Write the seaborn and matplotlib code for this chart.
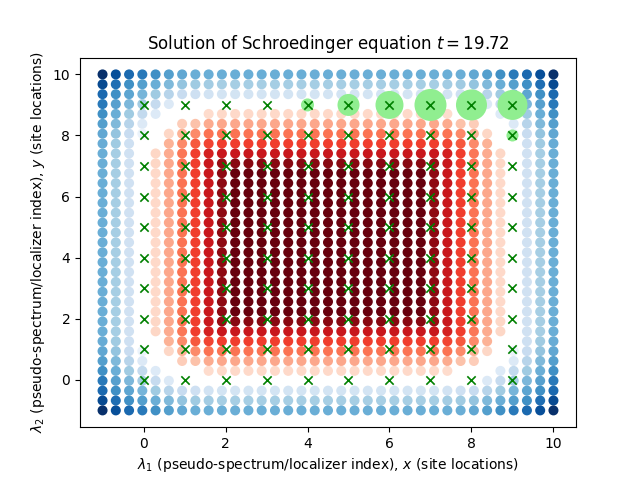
import matplotlib
matplotlib.use("Agg")
import matplotlib.pyplot as plt
import numpy as np
import pandas as pd
import seaborn as sns

# grid of localizer values, top row is lambda_2 = 10
# negative -> blue shades, positive -> red shades, 0 -> nothing drawn (in percent of the colormap)
grid_x = np.linspace(-1, 10, 35)
grid_y = np.linspace(10, -1, 35)

row_a = [-100,-88,-78,-72,-63,-57,-53,-50,-50,-50,-50,-50,-50,-50,-50,-50,-50,-50,-50,-50,-50,-50,-50,-50,-50,-50,-50,-50,-53,-57,-63,-72,-78,-88,-100]
row_b = [-90,-76,-63,-57,-50,-45,-40,-37,-36,-35,-35,-35,-35,-35,-35,-35,-35,-35,-35,-35,-35,-35,-35,-35,-35,-35,-36,-37,-40,-45,-50,-57,-63,-76,-90]
row_c = [-78,-63,-54,-47,-37,-30,-24,-21,-19,-18,-18,-18,-18,-18,-18,-18,-18,-18,-18,-18,-18,-18,-18,-18,-18,-18,-19,-21,-24,-30,-37,-47,-54,-63,-78]
row_d = [-72,-56,-46,-36,-25,-14,0,0,0,0,0,0,0,0,0,0,0,0,0,0,0,0,0,0,0,0,0,0,0,-14,-25,-36,-46,-56,-72]
row_e = [-63,-50,-37,-26,-13,0,0,0,14,15,15,15,15,15,15,15,15,15,15,15,15,15,15,15,15,15,14,0,0,0,-13,-26,-37,-50,-63]
row_f = [-57,-45,-30,-14,0,0,19,23,30,31,31,31,31,31,31,31,31,31,31,31,31,31,31,31,31,31,30,23,19,0,0,-14,-30,-45,-57]
row_g = [-53,-40,-24,-6,0,16,28,40,47,47,47,47,47,47,47,47,47,47,47,47,47,47,47,47,47,47,47,40,28,16,0,-6,-24,-40,-53]
row_h = [-51,-37,-21,0,0,28,40,55,60,62,62,62,62,62,62,62,62,62,62,62,62,62,62,62,62,62,60,55,40,28,0,0,-21,-37,-51]
row_i = [-50,-35,-20,0,16,30,46,62,72,76,76,76,76,76,76,76,76,76,76,76,76,76,76,76,76,76,72,62,46,30,16,0,-20,-35,-50]
row_j = [-50,-35,-20,0,16,31,47,62,76,90,93,93,93,93,93,93,93,93,93,93,93,93,93,93,93,90,76,62,47,31,16,0,-20,-35,-50]
row_k = [-50,-35,-20,0,15,31,47,62,76,92,100,100,100,100,100,100,100,100,100,100,100,100,100,100,100,92,76,62,47,31,15,0,-20,-35,-50]

field = [row_a, row_b, row_c, row_d, row_e, row_f, row_g, row_h, row_i, row_j,
         row_k, row_k, row_k, row_k, row_k, row_k, row_k, row_k, row_k, row_k,
         row_k, row_k, row_k, row_k, row_k,
         row_j, row_i, row_h, row_g, row_f, row_e, row_d, row_c, row_b, row_a]

# wavepacket circles
wave_x = [4, 5, 6, 7, 8, 9, 9]
wave_y = [9, 9, 9, 9, 9, 9, 8]
wave_area = [88, 251, 406, 531, 498, 466, 75]

# lattice sites
sites = list(range(10))

xx, yy = np.meshgrid(grid_x, grid_y)
df = pd.DataFrame({"x": xx.ravel(), "y": yy.ravel(), "val": np.array(field).ravel() / 100})
site_x, site_y = np.meshgrid(sites, sites)

fig, ax = plt.subplots(figsize=(6.4, 4.8), dpi=100)

sns.scatterplot(data=df[df.val < 0].assign(val=lambda d: -d.val), x="x", y="y", hue="val",
                palette="Blues", hue_norm=(0, 1), s=36, linewidth=1.2, edgecolor="face", legend=False, ax=ax)
sns.scatterplot(data=df[df.val > 0], x="x", y="y", hue="val",
                palette="Reds", hue_norm=(0, 1), s=36, linewidth=1.2, edgecolor="face", legend=False, ax=ax)
sns.scatterplot(x=wave_x, y=wave_y, s=wave_area, color="lightgreen", linewidth=0, ax=ax)
sns.scatterplot(x=site_x.ravel(), y=site_y.ravel(), marker="x", s=36, color="green", linewidth=1.2, ax=ax)

ax.set_title(r"Solution of Schroedinger equation $t = 19.72$")
ax.set_xlabel(r"$\lambda_1$ (pseudo-spectrum/localizer index), $x$ (site locations)")
ax.set_ylabel(r"$\lambda_2$ (pseudo-spectrum/localizer index), $y$ (site locations)")

fig.savefig("out.png", dpi=100)
